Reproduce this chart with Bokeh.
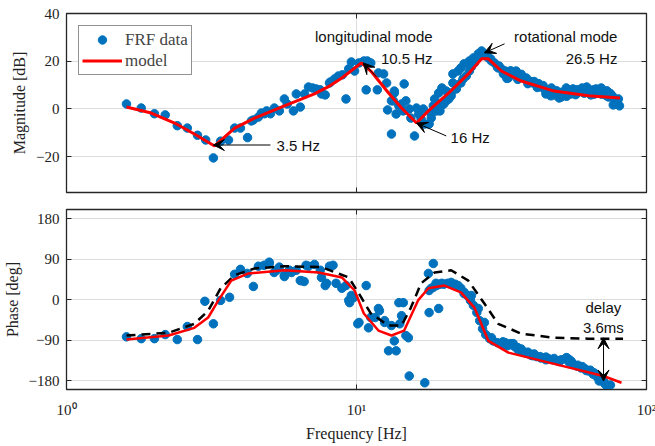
from bokeh.plotting import figure
from bokeh.layouts import column
from bokeh.models import (FixedTicker, LogAxis, LinearAxis, Label, Arrow, VeeHead,
                          Range1d, Legend, LegendItem)
from bokeh.embed import file_html
from bokeh.resources import INLINE

# ---------------- data ----------------
mag_f = [1.61, 1.81, 2.01, 2.19, 2.41, 2.61, 2.83, 3.02, 3.21, 3.40, 3.62, 3.80, 3.98, 4.21,
         4.34, 4.41, 4.59, 4.70, 4.82, 4.90, 5.05, 5.21, 5.42, 5.64, 5.77, 6.06, 6.20, 6.40,
         6.62, 6.83, 7.05, 7.26, 7.50, 7.57, 7.80, 8.07, 8.13, 8.40, 8.66, 8.94, 9.20, 9.40,
         9.60, 9.85, 10.2, 10.6, 10.9, 11.2, 10.8, 11.8, 11.9, 12.4, 12.7, 13.2, 12.8, 13.5,
         13.7, 13.2, 14.0, 14.6, 13.5, 13.4, 14.3, 14.5, 14.8, 15.2, 15.4, 16.1, 16.4, 15.85,
         16.7, 17.0, 17.2, 17.8, 18.1, 18.4, 18.6, 19.2, 19.7, 19.4, 20.0, 20.4, 20.8, 21.2,
         21.5, 21.5, 22.4, 22.9, 23.5, 24.5, 25.3, 26.3, 27.0, 27.6, 28.5, 29.2, 30.8, 32.1,
         33.4, 35.0, 36.5,
         18.1, 18.9, 19.7, 20.4, 21.2, 22.1, 22.9, 23.3, 23.9, 24.5, 24.9, 25.5, 26.0, 26.6,
         27.2, 28.1, 29.0, 29.9, 30.6, 31.6, 32.6, 33.6, 34.7, 35.8, 36.9, 38.1, 39.4, 40.6,
         41.9, 43.3, 44.7, 46.1, 47.6, 49.2, 50.8, 52.4, 54.1, 55.8, 57.6, 59.5, 61.4, 63.4,
         65.5, 67.6, 69.8, 72.0, 74.3, 76.2, 78.1, 79.4, 80.7, 76.8,
         46.8, 45.0, 50.0, 64.3, 72.8, 55.0, 35.5, 52.9, 62.2, 69.8, 40.0, 43.0, 58.0, 66.0,
         74.0, 78.5, 80.0,
         31.0, 33.0, 34.0, 37.0, 38.5, 41.0, 42.5, 44.0, 47.0, 49.0, 51.0, 53.0, 56.0, 60.0,
         63.0, 67.0, 70.0, 73.0, 75.0, 77.0, 33.0, 36.0, 39.0, 42.0, 45.0, 48.0, 53.0, 57.0,
         61.0, 65.0, 70.0, 74.0]
mag_db = [2.1, 0.4, -2.0, -2.5, -7.0, -8.0, -11.0, -13.0, -20.5, -13.5, -13.0, -8.0, -8.0, -12.0,
          -5.0, -4.6, -3.4, -1.7, -2.0, -0.8, -2.0, 0.4, -0.8, 4.2, 2.1, -0.8, 6.3, 0.8,
          6.3, 9.2, 8.8, 8.4, 8.0, 6.3, 5.9, 10.9, 11.3, 12.6, 13.8, 14.3, 4.2, 16.8,
          19.7, 15.9, 19.3, 20.1, 20.1, 19.3, 8.0, 8.0, 15.1, 14.7, 10.9, 3.4, -0.4, 6.7,
          -2.1, -10.5, 1.3, 10.5, 7.5, 3.4, 2.1, -0.8, 3.4, 0.0, -3.8, 0.4, -2.1, -11.3,
          -4.2, 0.0, -6.3, -6.3, -2.1, 1.3, 4.2, 6.7, 8.8, -0.8, 2.1, 7.5, 4.2, 5.5,
          10.9, 14.7, 15.9, 17.2, 18.9, 20.1, 21.4, 23.1, 24.3, 23.1, 21.4, 20.1, 17.2, 14.7,
          13.0, 14.7, 13.8,
          -3.8, -0.8, 1.7, 3.4, 6.7, 8.4, 10.9, 12.6, 13.8, 15.9, 17.6, 19.3, 21.0, 22.2,
          23.5, 22.6, 21.0, 19.3, 17.6, 16.8, 15.9, 14.7, 15.1, 14.3, 13.4, 12.6, 11.7, 10.9,
          10.1, 9.2, 8.4, 7.5, 6.7, 5.9, 5.0, 6.7, 7.5, 8.4, 8.0, 7.5, 8.4, 7.5,
          8.0, 7.1, 7.5, 7.1, 6.7, 5.5, 3.8, 2.1, 1.3, 1.7,
          5.5, 6.3, 4.6, 5.9, 5.5, 6.3, 15.9, 8.8, 9.2, 8.8, 11.5, 9.8, 6.9, 6.2,
          5.0, 3.0, 4.2,
          18.0, 15.5, 16.0, 14.5, 13.0, 11.5, 10.6, 9.8, 8.8, 7.6, 7.0, 8.0, 7.2, 8.8,
          8.2, 8.4, 7.9, 7.6, 6.5, 4.6, 12.8, 12.4, 10.6, 9.0, 7.4, 5.9, 5.3, 6.0,
          6.6, 6.4, 6.2, 5.8]

ph_f = [1.61, 1.81, 2.01, 2.19, 2.41, 2.61, 2.83, 3.00, 3.21, 3.40, 3.65, 3.80, 3.98, 4.20,
        4.41, 4.59, 4.80, 5.00, 5.20, 5.42, 5.64, 5.87, 6.20, 6.40, 6.60, 6.83, 7.16, 7.50,
        7.80, 8.07, 5.00, 5.30, 5.64, 5.97, 6.45, 6.70, 7.57, 7.88, 8.30, 8.50, 8.90, 9.47,
        9.76, 10.8, 10.2, 11.0, 11.6, 11.9, 12.5, 12.9, 13.7, 14.0, 13.2, 13.5, 14.1, 14.3,
        14.5, 14.8, 15.2, 17.2, 17.7, 18.4, 17.8, 19.2, 18.1, 18.8, 19.7, 21.2, 22.4, 23.5,
        24.9, 26.3, 27.6, 29.2, 31.6, 34.0, 36.0,
        9.2, 9.6, 9.4, 10.1, 11.2, 12.0, 12.5, 15.1,
        17.8, 18.4, 18.9, 19.4, 20.0, 20.6, 21.2, 21.9, 22.4, 22.9, 23.5, 24.1, 24.7, 25.3,
        26.0, 26.6, 27.2, 27.9, 28.8, 29.6, 30.6, 31.6, 32.6, 33.6, 34.7, 35.8, 36.9, 38.1,
        39.4, 40.6, 41.9, 43.3, 44.7, 46.1, 47.6, 49.2, 50.8, 52.4, 54.1, 55.8, 57.6, 59.5,
        61.4, 63.4, 65.5, 67.6, 69.8, 72.0, 74.0, 75.1, 70.9, 68.7,
        32.0, 33.0, 35.0, 37.0, 39.0, 41.0, 43.0, 45.0, 48.0, 50.0, 53.0, 55.0, 58.0, 60.0,
        62.0, 64.0, 66.0, 68.0, 70.0, 71.5, 73.0, 54.0, 45.0, 40.0, 36.0]
ph_deg = [-83, -87, -87, -78, -89, -60, -89, -4, -54, -2, 5, 56, 67, 58,
          29, 74, 76, 83, 60, 72, 51, 65, 65, 42, 40, 74, 78, 65,
          31, 74, 80, 65, 54, 60, 42, 76, 49, 36, 76, 36, 25, -7,
          4, 31, -51, -63, -40, -20, -51, -114, -114, -7, -58, -92, -54, -36,
          -7, -80, -170, -185, 58, 80, -29, -20, 25, 36, 36, 38, 31, 13,
          9, -20, -51, -85, -98, -98, -107,
          31, 9, -2, -54, -40, -25, -47, -85,
          20, 27, 31, 34, 34, 36, 36, 34, 29, 25, 16, 9, -2, -13,
          -29, -47, -65, -78, -87, -92, -96, -98, -96, -101, -98, -107, -114, -118,
          -121, -125, -127, -130, -130, -132, -134, -136, -134, -132, -139, -143, -148, -152,
          -154, -159, -166, -172, -179, -188, -194, -190, -183, -181,
          -94, -103, -104, -110, -117, -121, -127, -128, -131, -138, -129, -137, -146, -149,
          -158, -157, -163, -169, -176, -184, -192, -133, -134, -124, -111]

model_f = [1.61, 1.96, 2.36, 2.76, 2.99, 3.24, 3.8, 4.45, 5.64, 7.16, 8.07, 8.9, 10.4,
           11.2, 12.9, 14.3, 16.1, 17.7, 20.8, 24.3, 27.0, 28.5, 31.6, 37.0, 48.0, 63.0, 81.0]
model_db = [0.8, -1.7, -5.9, -10.5, -13.0, -15.5, -8.0, -3.8, 1.3, 6.3, 9.6, 13.0, 19.3,
            15.9, 6.7, 0.4, -5.9, -0.8, 6.7, 14.7, 21.0, 21.0, 15.9, 11.7, 7.5, 5.5, 4.6]

model_ph_f = [1.61, 2.25, 2.76, 3.08, 3.34, 3.7, 4.24, 5.64, 7.4, 8.2, 8.9, 9.85, 10.6,
              11.9, 13.2, 14.6, 16.3, 17.7, 20.1, 22.9, 25.5, 28.5, 33.4, 48.0, 71.0, 82.0]
model_ph = [-89, -80, -63, -40, -2, 42, 58, 65, 60, 54, 49, 20, -31,
            -69, -80, -69, -2, 25, 31, 16, -18, -92, -118, -143, -170, -185]

nodelay_f = [1.61, 2.25, 2.76, 3.08, 3.4, 3.8, 4.45, 5.64, 7.57, 9.4, 10.2, 11.2, 12.9,
             14.3, 15.4, 16.7, 18.6, 21.2, 24.3, 27.6, 30.8, 37.0, 48.0, 63.0, 83.0]
nodelay_ph = [-80, -74, -54, -25, 25, 54, 69, 74, 72, 49, 13, -31, -58,
              -58, -18, 36, 60, 65, 42, -9, -54, -76, -85, -87, -87]

y_ticks_mag = [-20, 0, 20, 40]
y_ticks_ph = [-180, -90, 0, 90, 180]
x_ticks = [1, 10, 100]
x_tick_labels = {1: "10\u2070", 10: "10\u00b9", 100: "10\u00b2"}

BLUE = "#0072BD"
SERIF = "Liberation Serif"
SANS = "Liberation Sans"
AX = "#262626"


def hidden_labels(ax):
    ax.major_label_text_font_size = "1px"
    ax.major_label_text_alpha = 0
    ax.major_label_standoff = 0


def style_axis(ax):
    ax.major_tick_in = 5
    ax.major_tick_out = 0
    ax.minor_tick_line_color = None
    ax.axis_line_color = AX
    ax.major_tick_line_color = AX
    ax.major_label_text_font = SERIF
    ax.major_label_text_font_size = "15px"
    ax.major_label_text_color = "#222222"
    ax.axis_label_text_font = SERIF
    ax.axis_label_text_font_size = "16px"
    ax.axis_label_text_font_style = "normal"
    ax.axis_label_text_color = "#222222"


def style(p, yticks, show_x_labels):
    p.outline_line_color = AX
    p.outline_line_width = 1.3
    bx = p.below[0]
    ly = p.left[0]
    bx.ticker = FixedTicker(ticks=x_ticks)
    ly.ticker = FixedTicker(ticks=yticks)
    p.xgrid.ticker = FixedTicker(ticks=x_ticks)
    p.ygrid.ticker = FixedTicker(ticks=yticks)
    p.grid.grid_line_color = "#dcdcdc"
    p.grid.grid_line_width = 1
    style_axis(bx)
    style_axis(ly)
    ly.major_label_standoff = 7
    ly.axis_label_standoff = 5
    if show_x_labels:
        bx.major_label_overrides = x_tick_labels
        bx.major_label_standoff = 12
        bx.axis_label_standoff = 4
    else:
        hidden_labels(bx)
    # mirrored ticks (box on)
    ra = LinearAxis(ticker=FixedTicker(ticks=yticks), major_tick_in=5, major_tick_out=0,
                    minor_tick_line_color=None, axis_line_color=AX, major_tick_line_color=AX)
    ta = LogAxis(ticker=FixedTicker(ticks=x_ticks), major_tick_in=5, major_tick_out=0,
                 minor_tick_line_color=None, axis_line_color=AX, major_tick_line_color=AX)
    hidden_labels(ra)
    hidden_labels(ta)
    p.add_layout(ra, "right")
    p.add_layout(ta, "above")
    return bx, ly


# ---------------- magnitude ----------------
p1 = figure(frame_width=580, frame_height=179, x_axis_type="log", output_backend="svg",
            toolbar_location=None, x_range=Range1d(1, 100), y_range=Range1d(-35, 40),
            min_border_left=65, min_border_right=10, min_border_top=13, min_border_bottom=8)
bx1, ly1 = style(p1, y_ticks_mag, False)
ly1.axis_label = "Magnitude [dB]"
r_pts = p1.scatter(mag_f, mag_db, size=8.5, color=BLUE)
r_mod = p1.line(model_f, model_db, color="#ff0000", line_width=3)

leg = Legend(items=[LegendItem(label="FRF data", renderers=[r_pts]),
                    LegendItem(label="model", renderers=[r_mod])],
             location="top_left", margin=12, padding=3, spacing=0,
             glyph_width=40, glyph_height=21, label_height=21, label_standoff=3,
             label_text_font=SERIF, label_text_font_size="17px",
             border_line_color=AX, border_line_width=1, background_fill_alpha=1)
p1.add_layout(leg, "center")


def lab(p, x, y, text, align):
    p.add_layout(Label(x=x, y=y, text=text, text_font=SANS, text_font_size="15px",
                       text_align=align, text_baseline="middle", text_color="#111111"))


lab(p1, 18.3, 30.2, "longitudinal mode", "right")
lab(p1, 18.3, 21.0, "10.5 Hz", "right")
lab(p1, 79.4, 30.2, "rotational mode", "right")
lab(p1, 79.4, 21.0, "26.5 Hz", "right")
lab(p1, 5.3, -15.4, "3.5 Hz", "left")
lab(p1, 21.1, -12.0, "16 Hz", "left")


def arr(p, x0, y0, x1, y1, both=False):
    head = VeeHead(size=11, fill_color="black", line_color="black", line_width=1)
    kw = {}
    if both:
        kw["start"] = VeeHead(size=11, fill_color="black", line_color="black", line_width=1)
    p.add_layout(Arrow(end=head, x_start=x0, y_start=y0, x_end=x1, y_end=y1,
                       line_color="black", line_width=1, **kw))


arr(p1, 5.05, -15.1, 3.21, -15.1)
arr(p1, 11.7, 13.5, 10.55, 19.3)
arr(p1, 20.4, -11.3, 16.1, -5.9)
arr(p1, 32.4, 27.3, 27.6, 23.5)

# ---------------- phase ----------------
p2 = figure(frame_width=580, frame_height=180, x_axis_type="log", output_backend="svg",
            toolbar_location=None, x_range=Range1d(1, 100), y_range=Range1d(-200, 200),
            min_border_left=65, min_border_right=10, min_border_top=9, min_border_bottom=57)
bx2, ly2 = style(p2, y_ticks_ph, True)
ly2.axis_label = "Phase [deg]"
bx2.axis_label = "Frequency [Hz]"
p2.scatter(ph_f, ph_deg, size=8.5, color=BLUE)
p2.line(nodelay_f, nodelay_ph, color="black", line_width=2.5, line_dash="9 6")
p2.line(model_ph_f, model_ph, color="#ff0000", line_width=2.5)
lab(p2, 71.0, -18, "delay", "center")
lab(p2, 71.0, -62, "3.6ms", "center")
arr(p2, 71.1, -85, 71.1, -181, both=True)

layout = column(p1, p2, spacing=0)
open("out.html", "w").write(file_html(layout, INLINE))
